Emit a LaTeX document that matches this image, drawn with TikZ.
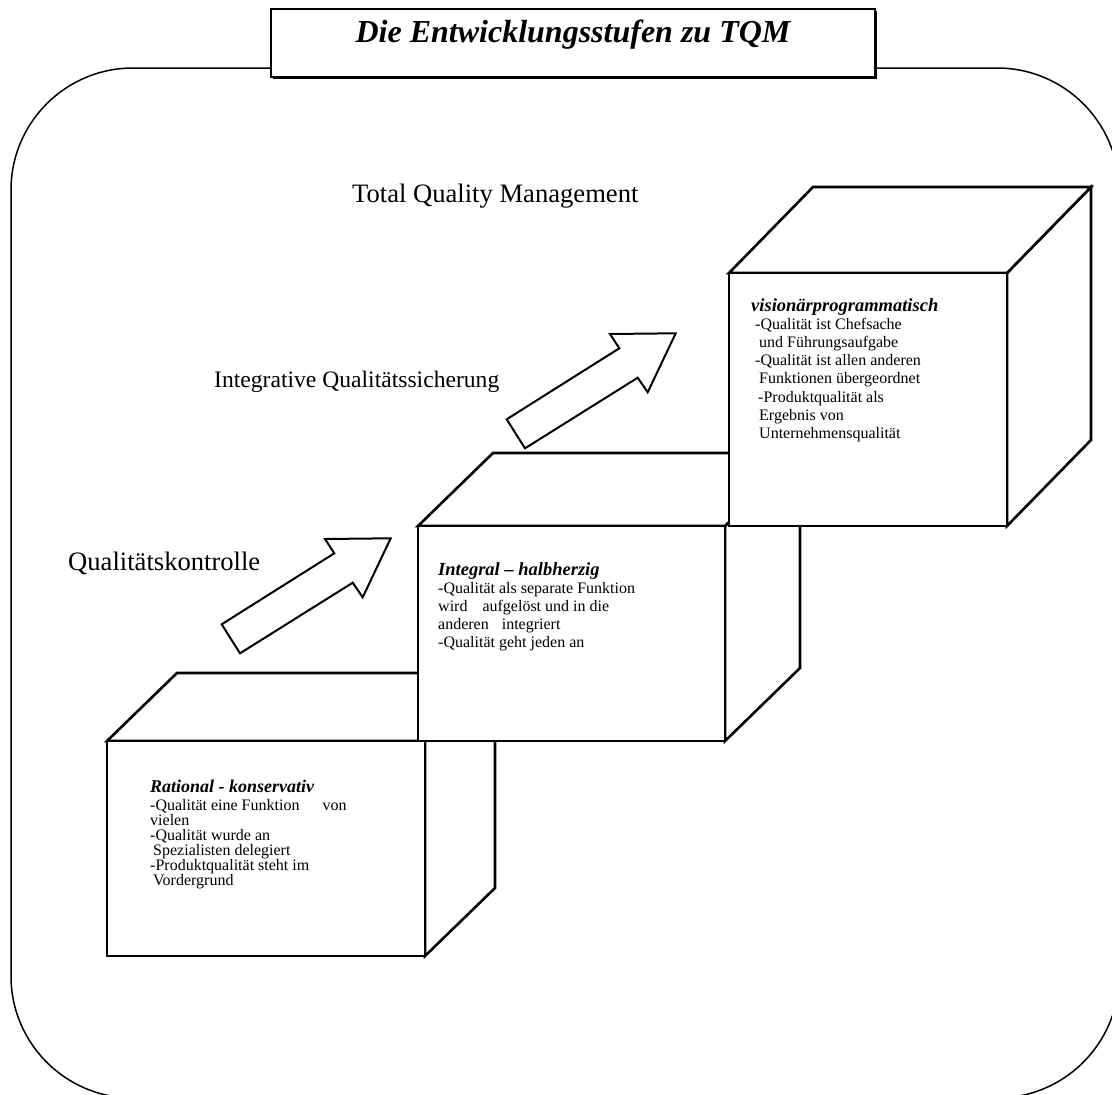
\documentclass[tikz,border=0pt]{standalone}
\usepackage{fontspec}
\setmainfont{Liberation Serif}
\begin{document}
\begin{tikzpicture}[x=1pt,y=-1pt,
  frame/.style={draw=black, line width=1.5pt},
  face/.style={draw=black, fill=white, line width=2.6pt, line join=miter},
  blockarrow/.style={draw=black, fill=white, line width=2pt, line join=miter},
  titlebox/.style={draw=black, fill=white, line width=2.4pt},
  stage/.style={anchor=base west, inner sep=0pt},
  head/.style={anchor=base west, inner sep=0pt, font=\fontsize{18.5}{20}\selectfont\bfseries\itshape},
  body/.style={anchor=base west, inner sep=0pt, font=\fontsize{16}{18}\selectfont},
]
\useasboundingbox (0,0) rectangle (1112,1095);
\clip (0,0) rectangle (1112,1095);
\fill[white] (0,0) rectangle (1112,1095);

% outer rounded frame (runs past the page edges on the right and bottom)
\draw[frame, rounded corners=122pt] (11,68) rectangle (1119,1098);

% title box with a thin shadow
\fill[black] (272.5,10.5) rectangle (876.5,78.5);
\draw[titlebox] (271,9) rectangle (875,77);
\node[anchor=base, inner sep=0pt, font=\fontsize{32}{36}\selectfont\bfseries\itshape] (title) at (573,42) {Die Entwicklungsstufen zu TQM};

% stage 1 cube
\draw[face] (425,741) -- (495,673) -- (495,888) -- (425,956) -- cycle;
\draw[face] (107,741) -- (177,673) -- (495,673) -- (425,741) -- cycle;
\draw[face] (107,741) rectangle (425,956);

% stage 2 cube
\draw[face] (725,526) -- (800,453) -- (800,668) -- (725,741) -- cycle;
\draw[face] (418,526) -- (493,453) -- (800,453) -- (725,526) -- cycle;
\draw[face] (418,526) rectangle (725,741);

% stage 3 cube
\draw[face] (1007,273) -- (1091,187) -- (1091,440) -- (1007,526) -- cycle;
\draw[face] (729,273) -- (813,187) -- (1091,187) -- (1007,273) -- cycle;
\draw[face] (729,273) rectangle (1007,526);

% block arrows between the stages
\draw[blockarrow] (221.7,624.3) -- (334.3,553.3) -- (325,539) -- (390.7,538.3)
  -- (362.7,597.3) -- (352.7,582.7) -- (240,653.3) -- cycle;
\begin{scope}[shift={(285,-205)}]
\draw[blockarrow] (221.7,624.3) -- (334.3,553.3) -- (325,539) -- (390.7,538.3)
  -- (362.7,597.3) -- (352.7,582.7) -- (240,653.3) -- cycle;
\end{scope}

% stage labels
\node[stage, font=\fontsize{26.6}{30}\selectfont] (tqm) at (352,202) {Total Quality Management};
\node[stage, font=\fontsize{23.6}{28}\selectfont] (iqs) at (214,387) {Integrative Qualitätssicherung};
\node[stage, font=\fontsize{26.6}{30}\selectfont] (qk) at (68,570) {Qualitätskontrolle};

% stage 1 text
\node[head, font=\fontsize{18}{20}\selectfont\bfseries\itshape] (h1) at (150,792) {Rational - konservativ};
\foreach \t [count=\i from 0] in {{-Qualität eine Funktion\hspace{23pt}von},{vielen},{-Qualität wurde an},{\hspace{3pt}Spezialisten delegiert},{-Produktqualität steht im},{\hspace{3pt}Vordergrund}}
  \node[body] (b1-\i) at (150,810+15*\i) {\t};

% stage 2 text
\node[head] (h2) at (438,575) {Integral – halbherzig};
\foreach \t [count=\i from 0] in {{-Qualität als separate Funktion},{wird\hspace{15pt}aufgelöst und in die},{anderen\hspace{13pt}integriert},{-Qualität geht jeden an}}
  \node[body] (b2-\i) at (438,593+18.3*\i) {\t};

% stage 3 text
\node[head] (h3) at (751,311) {visionärprogrammatisch};
\foreach \t [count=\i from 0] in {{-Qualität ist Chefsache},{\hspace{4pt}und Führungsaufgabe},{-Qualität ist allen anderen},{\hspace{4pt}Funktionen übergeordnet},{\hspace{3pt}-Produktqualität als},{\hspace{4pt}Ergebnis von},{\hspace{4pt}Unternehmensqualität}}
  \node[body] (b3-\i) at (755,329+18.3*\i) {\t};
\end{tikzpicture}
\end{document}
